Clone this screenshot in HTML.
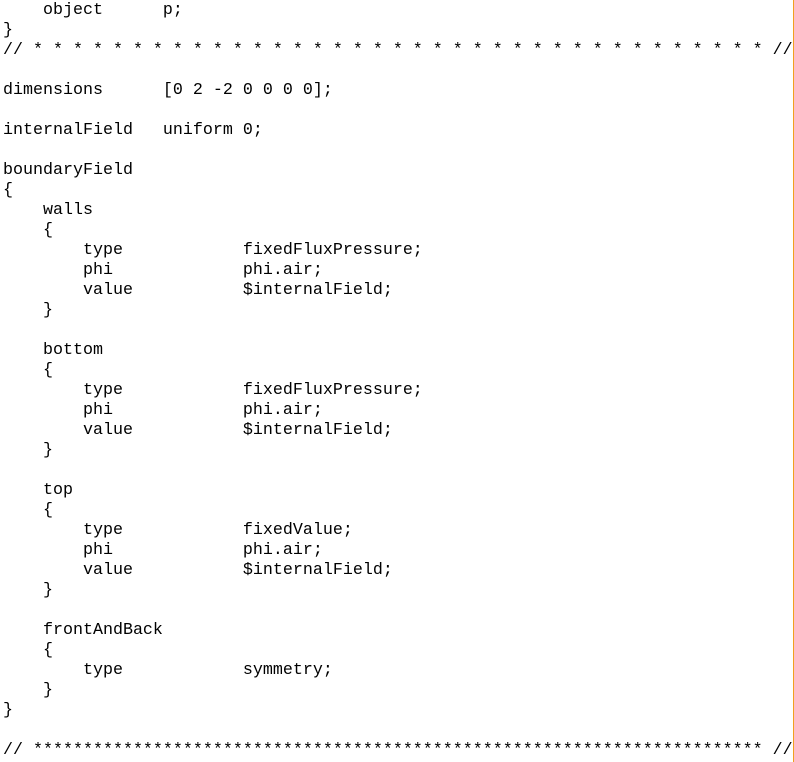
<!DOCTYPE html>
<html><head><style>
html,body{margin:0;padding:0;background:#fff;width:794px;height:762px;overflow:hidden;position:relative}
pre{margin:0;position:absolute;left:3px;top:1px;font-family:"Liberation Mono",monospace;font-size:16.67px;line-height:20px;color:#000;white-space:pre}
.bar{position:absolute;left:793px;top:0;width:1px;height:762px;background:#f0a020}
</style></head><body>
<pre>    object      p;
}
// * * * * * * * * * * * * * * * * * * * * * * * * * * * * * * * * * * * * * //

dimensions      [0 2 -2 0 0 0 0];

internalField   uniform 0;

boundaryField
{
    walls
    {
        type            fixedFluxPressure;
        phi             phi.air;
        value           $internalField;
    }

    bottom
    {
        type            fixedFluxPressure;
        phi             phi.air;
        value           $internalField;
    }

    top
    {
        type            fixedValue;
        phi             phi.air;
        value           $internalField;
    }

    frontAndBack
    {
        type            symmetry;
    }
}

// ************************************************************************* //</pre>
<div class="bar"></div>
</body></html>
